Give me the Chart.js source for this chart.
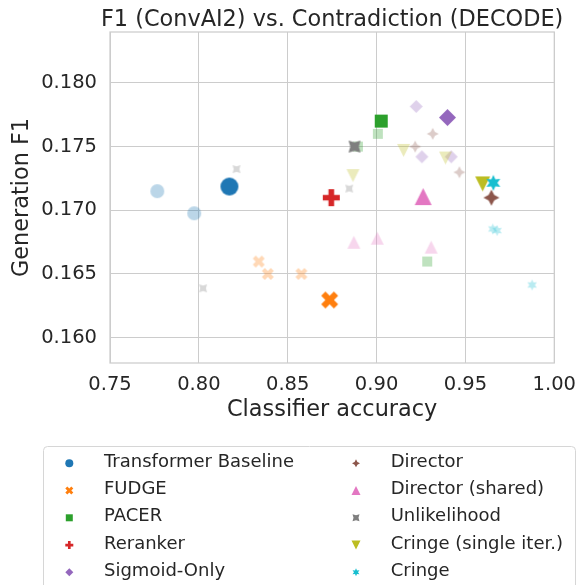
<!DOCTYPE html>
<html>
<head>
<meta charset="utf-8">
<title>F1 vs Contradiction</title>
<script src="https://cdn.jsdelivr.net/npm/chart.js@4.4.1/dist/chart.umd.min.js"></script>
<style>
  html, body { margin: 0; padding: 0; background: #fff; }
  canvas { display: block; }
</style>
</head>
<body>
<canvas id="chart" width="586" height="585"></canvas>
<script>
// ---- data ----
const methods = ['Transformer Baseline', 'FUDGE', 'PACER', 'Reranker', 'Sigmoid-Only',
                 'Director', 'Director (shared)', 'Unlikelihood', 'Cringe (single iter.)', 'Cringe'];
const mainX = [0.8172, 0.8736, 0.9026, 0.8745, 0.9399, 0.9646, 0.9262, 0.8876, 0.9597, 0.9657];
const mainY = [0.17186, 0.16295, 0.1770, 0.17099, 0.17728, 0.17099, 0.17107, 0.1750, 0.17207, 0.17215];
// other settings of each method, drawn faded
const variantX = [
  [0.7766, 0.7974],
  [0.8337, 0.8388, 0.8577],
  [0.9007, 0.8895, 0.9285],
  [],
  [0.9223, 0.9255, 0.9420],
  [0.9316, 0.9217, 0.9466],
  [0.8872, 0.9004, 0.9307],
  [0.8212, 0.8846, 0.8024],
  [0.9152, 0.9388, 0.8867],
  [0.9654, 0.9678, 0.9875]
];
const variantY = [
  [0.1715, 0.16976],
  [0.16597, 0.1650, 0.1650],
  [0.1760, 0.1750, 0.16597],
  [],
  [0.17815, 0.1742, 0.1742],
  [0.1760, 0.1750, 0.17298],
  [0.16748, 0.1678, 0.1671],
  [0.17323, 0.1717, 0.16387],
  [0.1747, 0.1741, 0.17272],
  [0.16853, 0.1684, 0.16413]
];
const xTicks = [0.75, 0.80, 0.85, 0.90, 0.95, 1.00];
const yTicks = [0.160, 0.165, 0.170, 0.175, 0.180];

// ---- styles ----
const colors = ['#1f77b4', '#ff7f0e', '#2ca02c', '#d62728', '#9467bd',
                '#8c564b', '#e377c2', '#7f7f7f', '#bcbd22', '#17becf'];
const shapes = ['circle', 'x', 'square', 'plus', 'diamond', 'star4', 'triUp', 'star4rot', 'triDown', 'star6'];
const mainSize = [18, 17, 13, 17, 17, 16, 17, 12, 15, 16];
const variantSize = [14, 12, 10, 12, 13, 12, 13, 8, 13, 11];
const legendSize = [8, 8, 7, 8, 8, 8, 9, 7, 9, 8];
const FONT = '"DejaVu Sans"';
const TEXT = '#262626';
const GRID = '#cccccc';

function poly(ctx, pts) {
  pts.forEach((p, i) => i ? ctx.lineTo(p[0], p[1]) : ctx.moveTo(p[0], p[1]));
}
function star(ctx, n, r, ratio, rot) {
  const pts = [];
  for (let i = 0; i < 2 * n; i++) {
    const a = -Math.PI / 2 + rot + i * Math.PI / n;
    const rr = i % 2 ? r * ratio : r;
    pts.push([rr * Math.cos(a), rr * Math.sin(a)]);
  }
  poly(ctx, pts);
}
function tracePath(ctx, shape, size) {
  const r = size / 2;
  ctx.beginPath();
  switch (shape) {
    case 'circle': ctx.arc(0, 0, r, 0, Math.PI * 2); break;
    case 'square': ctx.rect(-r, -r, 2 * r, 2 * r); break;
    case 'diamond': poly(ctx, [[0, -r], [r, 0], [0, r], [-r, 0]]); break;
    case 'plus': {
      const a = r / 3;
      poly(ctx, [[-a, -r], [a, -r], [a, -a], [r, -a], [r, a], [a, a], [a, r], [-a, r], [-a, a], [-r, a], [-r, -a], [-a, -a]]);
      break;
    }
    case 'x': {
      const pts = [[-1, -2], [0, -1], [1, -2], [2, -1], [1, 0], [2, 1], [1, 2], [0, 1], [-1, 2], [-2, 1], [-1, 0], [-2, -1]];
      poly(ctx, pts.map(p => [p[0] * r / 2, p[1] * r / 2]));
      break;
    }
    case 'triUp': poly(ctx, [[0, -r], [r, r], [-r, r]]); break;
    case 'triDown': poly(ctx, [[0, r], [r, -r], [-r, -r]]); break;
    case 'star4': star(ctx, 4, r, 0.5, 0); break;
    case 'star4rot': star(ctx, 4, r * Math.SQRT2, 0.5, Math.PI / 4); break;
    case 'star6': star(ctx, 6, r, 0.5, 0); break;
  }
  ctx.closePath();
}
function makeMarker(shape, color, alpha, size) {
  const c = document.createElement('canvas');
  const dim = Math.ceil(size) + 6;
  c.width = dim; c.height = dim;
  const ctx = c.getContext('2d');
  ctx.translate(dim / 2, dim / 2);
  ctx.globalAlpha = alpha;
  ctx.fillStyle = color;
  tracePath(ctx, shape, size);
  ctx.fill();
  return c;
}

// ---- datasets: faded variants first, then the main points on top ----
const datasets = [];
let k = 0;
methods.forEach((m, i) => {
  if (!variantX[i].length) return;
  datasets.push({
    label: m + ' (variants)',
    data: variantX[i].map((x, j) => ({x: x, y: variantY[i][j]})),
    pointStyle: makeMarker(shapes[i], colors[i], 0.3, variantSize[i]),
    pointRadius: variantSize[i] / 2,
    order: 100 - k++
  });
});
methods.forEach((m, i) => {
  datasets.push({
    label: m,
    data: [{x: mainX[i], y: mainY[i]}],
    pointStyle: makeMarker(shapes[i], colors[i], 1, mainSize[i]),
    pointRadius: mainSize[i] / 2,
    order: 100 - k++
  });
});

const framePlugin = {
  id: 'frame',
  beforeDatasetsDraw(chart) {
    const a = chart.chartArea, ctx = chart.ctx;
    ctx.save();
    ctx.strokeStyle = GRID;
    ctx.lineWidth = 1.25;
    ctx.strokeRect(a.left, a.top, a.right - a.left, a.bottom - a.top);
    ctx.restore();
  }
};

const titlePlugin = {
  id: 'figTitle',
  afterDraw(chart) {
    const a = chart.chartArea, ctx = chart.ctx;
    ctx.save();
    ctx.font = '22.4px ' + FONT;
    ctx.fillStyle = TEXT;
    ctx.textAlign = 'center';
    ctx.textBaseline = 'middle';
    ctx.fillText('F1 (ConvAI2) vs. Contradiction (DECODE)', (a.left + a.right) / 2, 20);
    ctx.restore();
  }
};

const legendPlugin = {
  id: 'twoColLegend',
  afterDraw(chart) {
    const ctx = chart.ctx;
    const left = 43.5, top = 446.5, right = 575.5, bottom = 610, rad = 4;
    ctx.save();
    ctx.beginPath();
    ctx.moveTo(left + rad, top);
    ctx.lineTo(right - rad, top);
    ctx.arcTo(right, top, right, top + rad, rad);
    ctx.lineTo(right, bottom);
    ctx.lineTo(left, bottom);
    ctx.lineTo(left, top + rad);
    ctx.arcTo(left, top, left + rad, top, rad);
    ctx.closePath();
    ctx.fillStyle = '#ffffff';
    ctx.fill();
    ctx.strokeStyle = '#d6d6d6';
    ctx.lineWidth = 1;
    ctx.stroke();

    ctx.font = '18px ' + FONT;
    ctx.fillStyle = TEXT;
    ctx.textAlign = 'left';
    ctx.textBaseline = 'middle';
    const colMarker = [69.3, 356];
    const colText = [104, 390.7];
    methods.forEach((m, i) => {
      const col = Math.floor(i / 5), row = i % 5;
      const y = 463.3 + row * 27.25;
      ctx.save();
      ctx.translate(colMarker[col], y);
      ctx.fillStyle = colors[i];
      tracePath(ctx, shapes[i], legendSize[i]);
      ctx.fill();
      ctx.restore();
      ctx.fillText(m, colText[col], y - 1);
    });
    ctx.restore();
  }
};

new Chart(document.getElementById('chart'), {
  type: 'scatter',
  data: {datasets: datasets},
  options: {
    responsive: false,
    animation: false,
    events: [],
    layout: {padding: {left: 0, right: 31, top: 32, bottom: 157}},
    plugins: {legend: {display: false}, tooltip: {enabled: false}, title: {display: false}},
    scales: {
      x: {
        type: 'linear',
        min: 0.75,
        max: 1.0,
        afterBuildTicks: axis => { axis.ticks = xTicks.map(v => ({value: v})); },
        afterFit: axis => { axis.height = 65; },
        ticks: {
          callback: v => v.toFixed(2),
          font: {family: FONT, size: 19.5},
          color: TEXT,
          padding: 10,
          maxRotation: 0
        },
        grid: {color: GRID, lineWidth: 1, drawTicks: false},
        border: {display: false},
        title: {
          display: true,
          text: 'Classifier accuracy',
          font: {family: FONT, size: 22.4},
          color: TEXT,
          padding: {top: 0, bottom: 4}
        }
      },
      y: {
        type: 'linear',
        min: 0.158,
        max: 0.184,
        afterBuildTicks: axis => { axis.ticks = yTicks.map(v => ({value: v})); },
        afterFit: axis => { axis.width = 110; },
        ticks: {
          callback: v => v.toFixed(3),
          font: {family: FONT, size: 19.5},
          color: TEXT,
          padding: 13
        },
        grid: {color: GRID, lineWidth: 1, drawTicks: false},
        border: {display: false},
        title: {
          display: true,
          text: 'Generation F1',
          font: {family: FONT, size: 22.4},
          color: TEXT,
          padding: {top: 8.5, bottom: 0}
        }
      }
    }
  },
  plugins: [framePlugin, titlePlugin, legendPlugin]
});
</script>
</body>
</html>
